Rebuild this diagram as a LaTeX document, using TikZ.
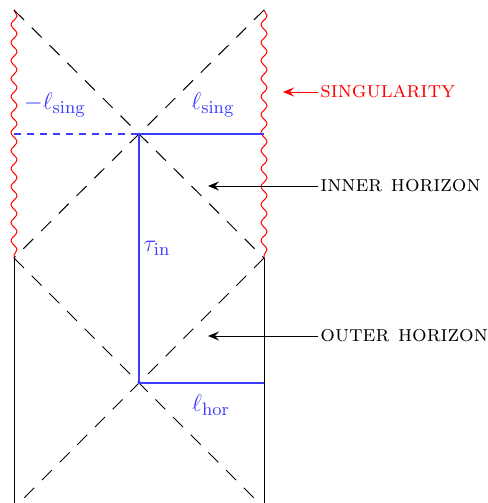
\documentclass[tikz,border=0pt]{standalone}
\usetikzlibrary{decorations.pathmorphing,arrows.meta}
\definecolor{lblue}{RGB}{60,60,255}
\begin{document}
\begin{tikzpicture}[x=0.5pt,y=-0.5pt,
  horizon/.style={black,dash pattern=on 7pt off 5.5pt,line width=0.5pt},
  sing/.style={red,line width=0.5pt,decorate,decoration={snake,amplitude=1.5pt,segment length=9pt}},
  bnd/.style={black,line width=0.5pt},
  blu/.style={draw=lblue,line width=0.52pt},
  bdash/.style={draw=lblue,line width=0.52pt,dash pattern=on 3.5pt off 3pt},
  lab/.style={text=lblue,inner sep=1pt,font=\fontsize{13}{15}\selectfont},
  callout/.style={line width=0.5pt,-{Stealth[length=5.5pt,width=4.5pt,inset=2pt]}},
  ctext/.style={anchor=west,inner sep=1pt,font=\fontsize{11.5}{13}\selectfont}]
\clip (0,0) rectangle (487,503);
% key points
\coordinate (TL) at (14,10);
\coordinate (TR) at (264,10);
\coordinate (C1) at (139,134);
\coordinate (ML) at (14,258);
\coordinate (MR) at (264,258);
\coordinate (C2) at (139,383);
\coordinate (BL) at (14,508);
\coordinate (BR) at (264,508);
% singularities
\draw[sing] (TL) -- (ML);
\draw[sing] (TR) -- (MR);
% boundaries of exterior
\draw[bnd] (ML) -- (BL);
\draw[bnd] (MR) -- (BR);
% horizons
\draw[horizon] (TL) -- (C1) -- (MR);
\draw[horizon] (TR) -- (C1) -- (ML);
\draw[horizon] (ML) -- (C2) -- (BR);
\draw[horizon] (MR) -- (C2) -- (BL);
% blue lines
\coordinate (LS) at (14,134);
\coordinate (RS) at (264,134);
\coordinate (RH) at (264,383);
\draw[bdash] (LS) -- (C1);
\draw[blu] (RS) -- (C1) -- (C2) -- (RH);
% labels
\node[lab] (l1) at (55,105) {$-\ell_{\mathrm{sing}}$};
\node[lab] (l2) at (213,105) {$\ell_{\mathrm{sing}}$};
\node[lab] (l3) at (157,248) {$\tau_{\mathrm{in}}$};
\node[lab] (l4) at (211,405) {$\ell_{\mathrm{hor}}$};
% callouts
\node[ctext,text=red] (s) at (318,92) {\textsc{singularity}};
\node[ctext] (ih) at (318,186) {\textsc{inner horizon}};
\node[ctext] (oh) at (318,336) {\textsc{outer horizon}};
\coordinate (sa) at (283,92);
\coordinate (iha) at (208,186);
\coordinate (oha) at (208,336);
\draw[callout,red] (s.west) -- (sa);
\draw[callout] (ih.west) -- (iha);
\draw[callout] (oh.west) -- (oha);
\end{tikzpicture}
\end{document}
